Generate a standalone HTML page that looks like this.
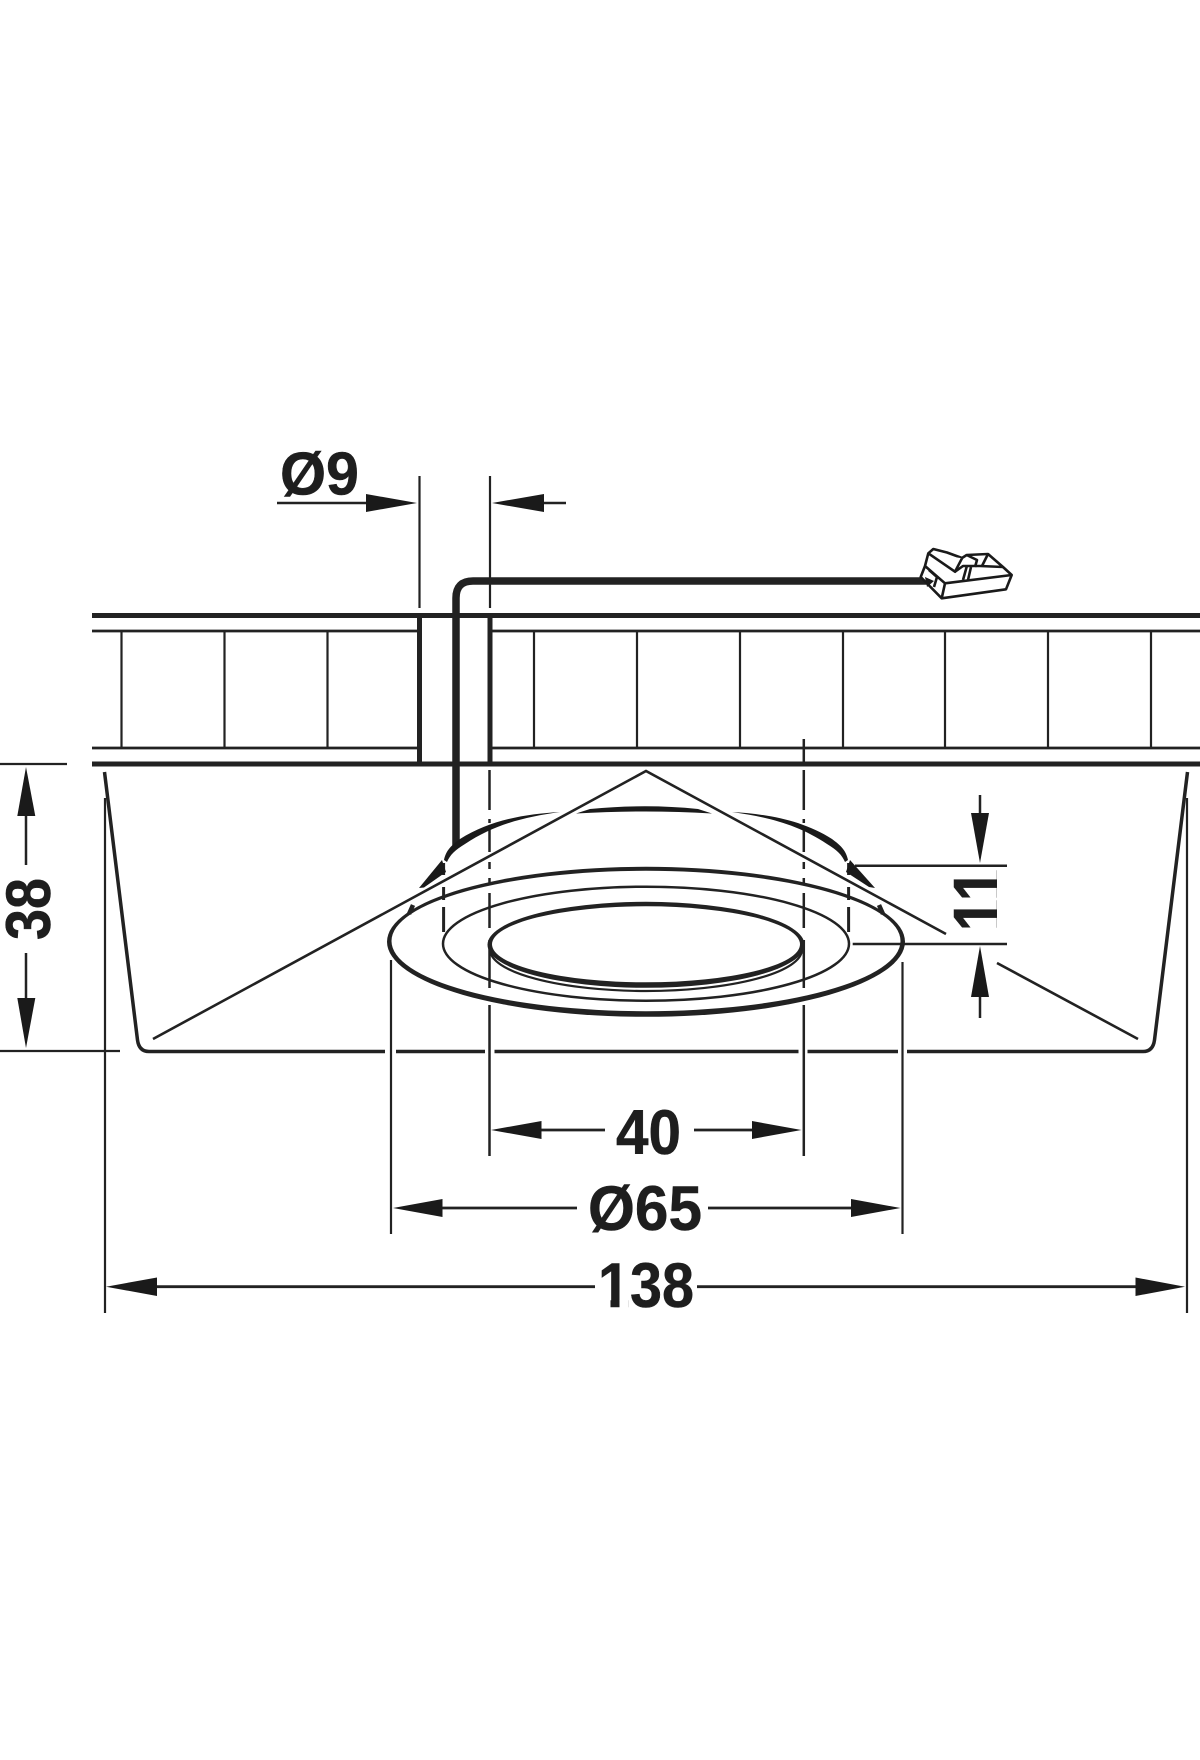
<!DOCTYPE html>
<html><head><meta charset="utf-8"><style>html,body{margin:0;padding:0;background:#fff}svg{display:block}text{font-family:"Liberation Sans",sans-serif;font-weight:700;font-size:63px;fill:#1e1e1e;stroke:#1e1e1e;stroke-width:.5;text-anchor:middle}</style></head>
<body>
<svg xmlns="http://www.w3.org/2000/svg" width="1200" height="1760" viewBox="0 0 1200 1760">
<rect width="1200" height="1760" fill="#fff"/>
<g fill="none" stroke="#222" stroke-linecap="butt">
<!-- panel -->
<path d="M92 615.500H1200M92 764H1200" stroke-width="5"/>
<path d="M92 631H419M490 631H1200M92 748H419M490 748H1200" stroke-width="2.800"/>
<path d="M419.500 613V766M490 613V766" stroke-width="5"/>
<path d="M121.500 631V748M224.500 631V748M327.500 631V748M534 631V748M637 631V748M740 631V748M843 631V748M945 631V748M1048 631V748M1151 631V748" stroke-width="2.200"/>
<!-- Ø9 extension -->
<path d="M419.500 476V608M490 476V608" stroke-width="2.200"/>
<path d="M277 503H370M540 503H566" stroke-width="2.500"/>
<!-- wire -->
<path d="M456 847V598Q456 581 473 581H932" stroke-width="7.500"/>
<!-- tray -->
<path d="M104.500 772L137.500 1040Q139 1051.500 149 1051.500H385M396 1051.500H485M494.500 1051.500H798.500M807.500 1051.500H898M907 1051.500H1143Q1153 1051.500 1154.500 1040L1187.500 772" stroke-width="3.500"/>
</g>
<!-- lamp -->
<ellipse cx="646" cy="941.800" rx="259" ry="75" fill="#222"/>
<ellipse cx="646" cy="941" rx="254.500" ry="70.200" fill="#fff"/>
<ellipse cx="646" cy="943.700" rx="203" ry="57" fill="none" stroke="#222" stroke-width="2.500"/>
<ellipse cx="646" cy="949.500" rx="156" ry="41.500" fill="none" stroke="#222" stroke-width="2.200"/>
<ellipse cx="646" cy="944.800" rx="158.500" ry="43" fill="#222"/>
<ellipse cx="646" cy="944.300" rx="154" ry="38" fill="#fff"/>
<g fill="none" stroke="#222">
<path d="M153 1039L646 771L946 934M997 963L1138 1039" stroke-width="2.600"/>
<path d="M409 914L413 905M879 905L883 914" stroke-width="4.500"/>
<!-- dash-dot -->
<path d="M489.500 770V810M489.500 819V823M489.500 828V852M489.500 862V869M489.500 878V883M489.500 893V928M489.500 940V988M489.500 1005V1156" stroke-width="2.500"/>
<path d="M803.800 739V762M803.800 770V810M803.800 819V823M803.800 828V852M803.800 862V869M803.800 878V883M803.800 893V928M803.800 940V988M803.800 1005V1156" stroke-width="2.500"/>
<path d="M443.600 863V875M443.600 887V900M443.600 907V932M848.600 863V875M848.600 887V900M848.600 907V932" stroke-width="3"/>
<!-- extension -->
<path d="M391 960V1234M902.500 962V1234" stroke-width="2.200"/>
<path d="M105 798V1313M1187 798V1313" stroke-width="2.200"/>
<path d="M0 764H67M0 1051H120" stroke-width="2.200"/>
<path d="M855 865.700H1007M852.700 944H1007" stroke-width="2.500"/>
<!-- dim lines -->
<path d="M26 816V865M26 953V998" stroke-width="2.500"/>
<path d="M980 795V815M980 995V1018" stroke-width="2.500"/>
<path d="M540 1130H605M694 1130H753" stroke-width="2.800"/>
<path d="M441 1208H577M708 1208H852" stroke-width="2.800"/>
<path d="M155 1286.700H595M697 1286.700H1137" stroke-width="2.800"/>
</g>
<g fill="#1a1a1a">
<path d="M366 494L417 503L366 512Z"/>
<path d="M492 503L544 494V512Z"/>
<path d="M26 767L35.300 816H17.300Z"/>
<path d="M26 1048L35.300 998H17.300Z"/>
<path d="M980 863L989 813H971Z"/>
<path d="M980 946L989 997H971Z"/>
<path d="M491 1130L541.500 1121V1139Z"/>
<path d="M801.500 1130L752 1121V1139Z"/>
<path d="M393 1208L442.500 1199V1217Z"/>
<path d="M900.500 1208L851 1199V1217Z"/>
<path d="M106 1286.700L157 1277.500V1296Z"/>
<path d="M1185 1286.700L1135.500 1277.500V1296Z"/>
<!-- dome -->
<path d="M576 813.500L590 809Q646 803.500 698 809L712 813.500Q646 809.500 576 813.500Z"/>
<path d="M444 860C446 850 452 845 460 839C490 820 525 814 560 812C525 817 495 824 465 844C455 850 450 855 447 862Z"/>
<path d="M848 860C846 850 840 845 832 839C802 820 767 814 732 812C767 817 797 824 827 844C837 850 842 855 845 862Z"/>
<!-- flares -->
<path d="M442 860L419 888L424 887.500L446 872Z"/>
<path d="M850 860L875 888L869 887L846 872Z"/>
</g>
<!-- connector -->
<g fill="#fff" stroke="#1a1a1a" stroke-width="2.600" stroke-linejoin="round">
<path d="M925 566L920.700 577L941.700 598.300L1006 589.300L1011.700 575L1003 567L988 554L966.700 555L962 558L947 552.500L933.300 549L928.300 553.300Z"/>
<path d="M945 583.300L941.700 598.300M945 583.300L1011.700 575M925 566L945 583.300M929 570L937 577L934 587"/>
<path d="M928.300 553.300L955 571.700L962 558.300M966.700 566.700L963 580M971 567L968 580M966.700 555L977 560L975 567M988 554L982 566"/>
<path d="M955 571.700L963 566L980 566L1003 567" fill="none"/>
</g>
<path d="M925 577L934 581L927 587Z" fill="#1a1a1a"/>
<!-- labels -->
<text x="319.500" y="494.500" textLength="79" lengthAdjust="spacingAndGlyphs" style="font-size:60px">Ø9</text>
<text x="648.500" y="1154" textLength="65" lengthAdjust="spacingAndGlyphs">40</text>
<text x="645" y="1230" textLength="114" lengthAdjust="spacingAndGlyphs">Ø65</text>
<text x="646" y="1307" textLength="96" lengthAdjust="spacingAndGlyphs">138</text>
<rect x="600" y="1300" width="10.500" height="9" fill="#fff"/>
<rect x="619.500" y="1300" width="9" height="9" fill="#fff"/>
<text transform="translate(50 909) rotate(-90)" textLength="62" lengthAdjust="spacingAndGlyphs">38</text>
<text transform="translate(1004.300 931.300) rotate(-90) scale(.8 1)" style="font-size:73px;text-anchor:start">1</text>
<text transform="translate(1004.300 901.300) rotate(-90) scale(.8 1)" style="font-size:73px;text-anchor:start">1</text>
<rect x="997" y="867.500" width="12" height="68" fill="#fff"/>
</svg>
</body></html>
